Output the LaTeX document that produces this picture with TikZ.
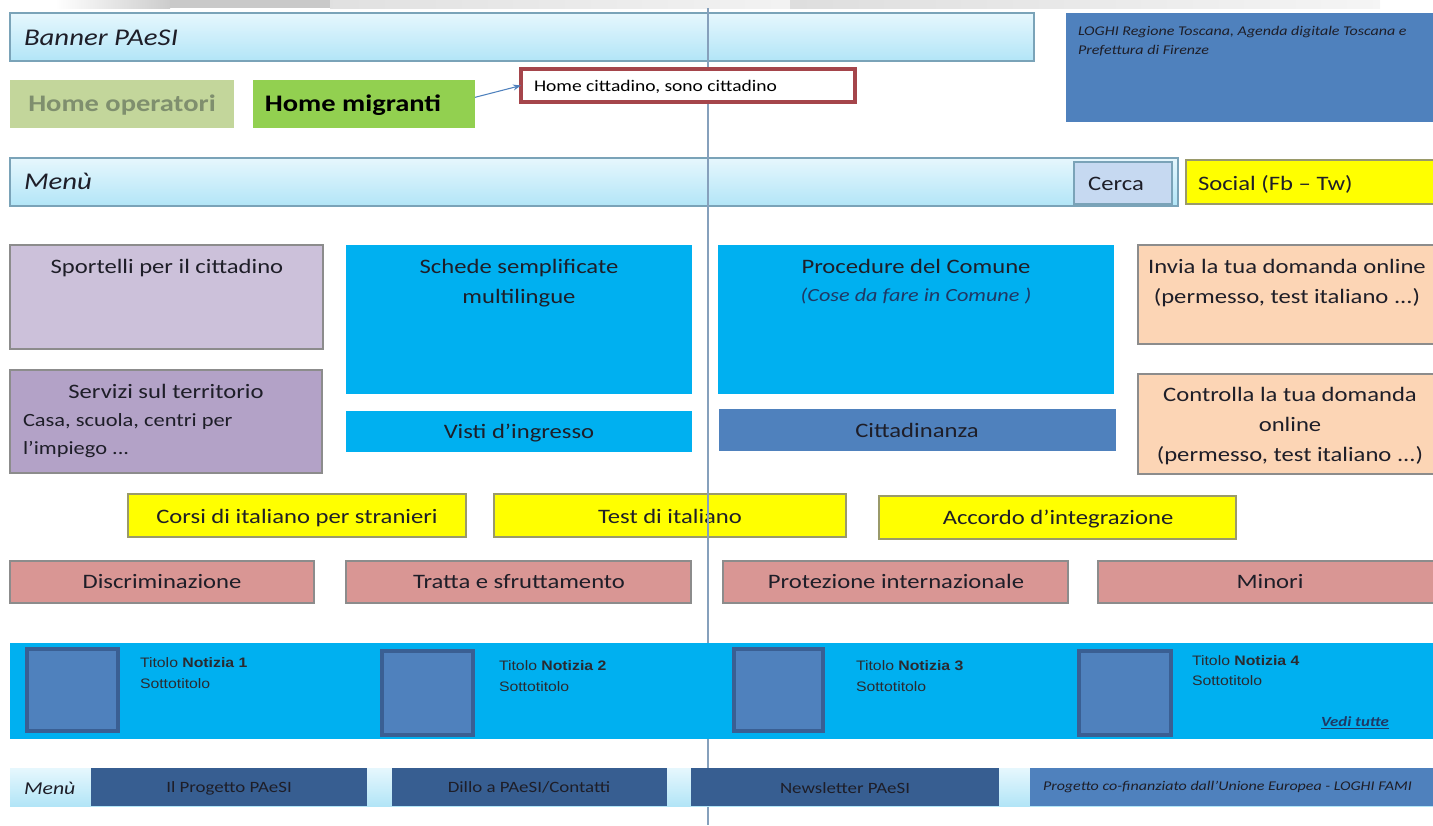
\documentclass[tikz,border=0pt]{standalone}
\usepackage{fontspec}
\setmainfont{Carlito}[FakeStretch=1.2]
\newfontfamily\newsfont{Liberation Sans}[FakeStretch=1.15]
\usetikzlibrary{fit,arrows.meta}

% palette
\definecolor{bannerTop}{HTML}{E6F7FD}
\definecolor{bannerBot}{HTML}{B2E5F7}
\definecolor{bannerLine}{HTML}{7AA3B8}
\definecolor{logoBlue}{HTML}{4F81BD}
\definecolor{oliveLight}{HTML}{C3D69B}
\definecolor{oliveText}{HTML}{7F8F6E}
\definecolor{greenBtn}{HTML}{92D050}
\definecolor{redEdge}{HTML}{A5454B}
\definecolor{cercaFill}{HTML}{C6D9F1}
\definecolor{socialY}{HTML}{FFFF00}
\definecolor{lavLight}{HTML}{CCC1DA}
\definecolor{lavDark}{HTML}{B3A2C7}
\definecolor{cyanBox}{HTML}{00B0F0}
\definecolor{peach}{HTML}{FCD5B5}
\definecolor{rose}{HTML}{D99694}
\definecolor{thumbEdge}{HTML}{3A5F93}
\definecolor{navy}{HTML}{375E91}
\definecolor{guide}{HTML}{86A0BC}
\definecolor{ink}{HTML}{1E1E28}
\definecolor{boxEdge}{HTML}{8C8C8C}
\definecolor{yEdge}{HTML}{9A9A6A}
\definecolor{newsInk}{HTML}{2A2A30}
\definecolor{linkInk}{HTML}{1F3864}

% type sizes
\newcommand\fMain{\fontsize{15.4}{19}\selectfont}
\newcommand\fBanner{\fontsize{18}{21}\selectfont\itshape}
\newcommand\fHome{\fontsize{17.8}{21}\selectfont\bfseries}
\newcommand\fCitt{\fontsize{12.2}{14}\selectfont}
\newcommand\fLogo{\fontsize{10}{12}\selectfont\itshape}
\newcommand\fSmall{\fontsize{14}{17}\selectfont}
\newcommand\fSub{\fontsize{13.9}{17}\selectfont\itshape}
\newcommand\fBottom{\fontsize{11.8}{14}\selectfont}
\newcommand\fFootMenu{\fontsize{13.6}{16}\selectfont\itshape}
\newcommand\fCofin{\fontsize{10}{12}\selectfont\itshape}
\newcommand\fNews{\newsfont\fontsize{10.3}{12}\selectfont}
\newcommand\fVedi{\fontsize{10.5}{12}\selectfont\bfseries\itshape}

\tikzset{
  area/.style={inner sep=0pt, outer sep=0pt},
  panel/.style={area, draw=boxEdge, line width=0.8pt},
  bar/.style={area, draw=bannerLine, line width=0.8pt, top color=bannerTop, bottom color=bannerBot},
  ybox/.style={area, draw=yEdge, line width=0.8pt, fill=socialY},
  rbox/.style={panel, fill=rose},
  thumb/.style={area, draw=thumbEdge, line width=2.6pt, fill=logoBlue},
  t/.style={inner sep=0pt, outer sep=0pt, text=ink, anchor=mid, font=\fMain, yshift=-2.4pt},
  tl/.style={t, anchor=mid west},
  big/.style={yshift=-1.2pt},
  small/.style={yshift=1pt},
  nw/.style={inner sep=0pt, outer sep=0pt, text=newsInk, anchor=mid west, font=\fNews, yshift=-1.4pt},
  guideline/.style={draw=guide, line width=0.8pt},
}

\begin{document}
\begin{tikzpicture}[x=0.75pt, y=-0.75pt]
\useasboundingbox (0,0) rectangle (1433,825);

% faint grey strip along the top edge
\fill[left color=white, right color=black!20] (55,0) rectangle (170,8);
\fill[black!21] (170,0) rectangle (330,8);
\fill[left color=black!12, right color=black!5] (330,0) rectangle (790,8);
\fill[left color=black!13, right color=black!4] (790,0) rectangle (1380,8);

% header
\node[bar, fit={(10,13) (1034,61)}] (banner) {};
\node[tl, big, font=\fBanner] (bannerT) at (24,38) {Banner PAeSI};

\node[area, fill=logoBlue, fit={(1066,13) (1433,122)}] (logo) {};
\node[tl, small, font=\fLogo] (logoA) at (1078,30) {LOGHI Regione Toscana, Agenda digitale Toscana e};
\node[tl, small, font=\fLogo] (logoB) at (1078,49) {Prefettura di Firenze};

\node[area, fill=oliveLight, fit={(10,80) (234,128)}] (oper) {};
\node[t, big, font=\fHome, text=oliveText] (operT) at (122,104) {Home operatori};
\node[area, fill=greenBtn, fit={(253,80) (475,128)}] (migr) {};
\node[t, big, font=\fHome, text=black] (migrT) at (353,104) {Home migranti};

% main menu
\node[bar, fit={(10,158) (1178,206)}] (menu) {};
\node[tl, big, font=\fBanner] (menuT) at (24,182) {Menù};
\node[area, draw=bannerLine, line width=0.8pt, fill=cercaFill, fit={(1074,162) (1172,204)}] (cerca) {};
\node[t] (cercaT) at (1116,184) {Cerca};
\node[ybox, fit={(1186,160) (1440,204)}] (social) {};
\node[tl] (socialT) at (1198,184) {Social (Fb -- Tw)};

% content blocks
\node[panel, fill=lavLight, fit={(10,245) (323,349)}] (sport) {};
\node[t] (sportT) at (167,267) {Sportelli per il cittadino};

\node[panel, fill=lavDark, fit={(10,370) (322,473)}] (serv) {};
\node[t] (servT) at (166,392) {Servizi sul territorio};
\node[tl, small, font=\fSmall] (servA) at (23,421) {Casa, scuola, centri per};
\node[tl, small, font=\fSmall] (servB) at (23,449) {l’impiego ...};

\node[area, fill=cyanBox, fit={(346,245) (692,394)}] (schede) {};
\node[t] (schedeA) at (519,267) {Schede semplificate};
\node[t] (schedeB) at (519,297) {multilingue};

\node[area, fill=cyanBox, fit={(346,411) (692,452)}] (visti) {};
\node[t] (vistiT) at (519,432) {Visti d’ingresso};

\node[area, fill=cyanBox, fit={(718,245) (1114,394)}] (proc) {};
\node[t] (procA) at (916,267) {Procedure del Comune};
\node[t, small, font=\fSub, text=linkInk] (procB) at (916,296) {(Cose da fare in Comune )};

\node[area, fill=logoBlue, fit={(719,409) (1116,451)}] (citt) {};
\node[t] (cittT) at (917,431) {Cittadinanza};

\node[panel, fill=peach, fit={(1138,245) (1440,344)}] (invia) {};
\node[t] (inviaA) at (1287,267) {Invia la tua domanda online};
\node[t] (inviaB) at (1287,297) {(permesso, test italiano ...)};

\node[panel, fill=peach, fit={(1138,374) (1440,474)}] (contr) {};
\node[t] (contrA) at (1290,395) {Controlla la tua domanda};
\node[t] (contrB) at (1290,425) {online};
\node[t] (contrC) at (1290,455) {(permesso, test italiano ...)};

\node[ybox, fit={(128,494) (466,537)}] (corsi) {};
\node[t] (corsiT) at (297,517) {Corsi di italiano per stranieri};
\node[ybox, fit={(494,494) (846,537)}] (test) {};
\node[t] (testT) at (670,517) {Test di italiano};
\node[ybox, fit={(879,496) (1236,539)}] (accordo) {};
\node[t] (accordoT) at (1058,518) {Accordo d’integrazione};

\node[rbox, fit={(10,561) (314,603)}] (discr) {};
\node[t] (discrT) at (162,582) {Discriminazione};
\node[rbox, fit={(346,561) (691,603)}] (tratta) {};
\node[t] (trattaT) at (519,582) {Tratta e sfruttamento};
\node[rbox, fit={(723,561) (1068,603)}] (prot) {};
\node[t] (protT) at (896,582) {Protezione internazionale};
\node[rbox, fit={(1098,561) (1440,603)}] (minori) {};
\node[t] (minoriT) at (1270,582) {Minori};

% central guide line
\coordinate (guideTop) at (708,8);
\coordinate (guideBot) at (708,825);
\draw[guideline] (guideTop) -- (guideBot);

% citizen home callout
\node[area, draw=redEdge, line width=2.4pt, fill=white, fit={(521,69) (855,102)}] (homec) {};
\node[tl, small, font=\fCitt, text=black] (homecT) at (534,86) {Home cittadino, sono cittadino};
\draw[-{Stealth[length=6pt,width=4.5pt]}, draw=logoBlue, line width=0.8pt] ([yshift=5pt]migr.east) -- (homec.west);

% news strip
\node[area, fill=cyanBox, fit={(10,643) (1440,739)}] (news) {};
\node[thumb, fit={(27,649) (118,731)}] (th1) {};
\node[thumb, fit={(382,651) (473,735)}] (th2) {};
\node[thumb, fit={(734,649) (823,731)}] (th3) {};
\node[thumb, fit={(1079,651) (1171,735)}] (th4) {};
\node[nw] (n1a) at (140,662) {Titolo \textbf{Notizia 1}};
\node[nw] (n1b) at (140,683) {Sottotitolo};
\node[nw] (n2a) at (499,665) {Titolo \textbf{Notizia 2}};
\node[nw] (n2b) at (499,686) {Sottotitolo};
\node[nw] (n3a) at (856,665) {Titolo \textbf{Notizia 3}};
\node[nw] (n3b) at (856,686) {Sottotitolo};
\node[nw] (n4a) at (1192,660) {Titolo \textbf{Notizia 4}};
\node[nw] (n4b) at (1192,680) {Sottotitolo};
\node[t, small, font=\fVedi, text=linkInk] (vedi) at (1355,721) {\underline{Vedi tutte}};

% footer menu
\node[area, top color=bannerTop, bottom color=bannerBot, fit={(10,768) (1440,806)}] (foot) {};
\node[tl, font=\fFootMenu] (footT) at (24,788) {Menù};
\node[area, fill=navy, fit={(91,768) (367,806)}] (prog) {};
\node[t, small, font=\fBottom] (progT) at (229,787) {Il Progetto PAeSI};
\node[area, fill=navy, fit={(392,768) (667,806)}] (dillo) {};
\node[t, small, font=\fBottom] (dilloT) at (529,787) {Dillo a PAeSI/Contatti};
\node[area, fill=navy, fit={(691,768) (999,806)}] (nl) {};
\node[t, small, font=\fBottom] (nlT) at (845,788) {Newsletter PAeSI};
\node[area, fill=logoBlue, fit={(1030,768) (1440,806)}] (cofin) {};
\node[tl, small, font=\fCofin] (cofinT) at (1043,785) {Progetto co-finanziato dall’Unione Europea - LOGHI FAMI};
\end{tikzpicture}
\end{document}
